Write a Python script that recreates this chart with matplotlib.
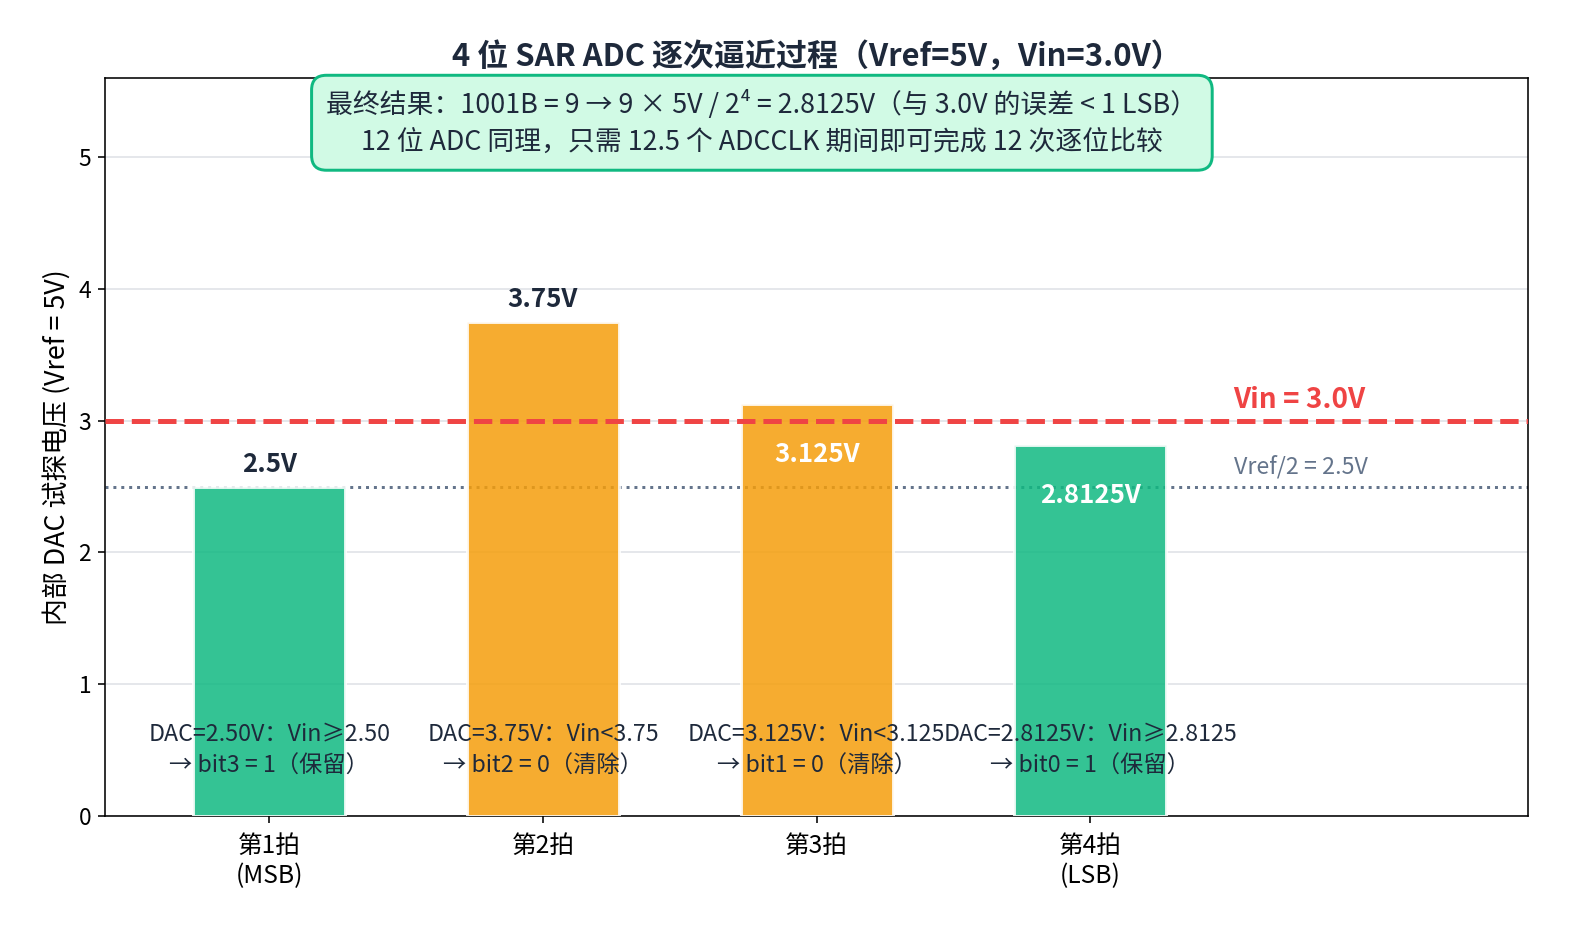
import numpy as np
import matplotlib
matplotlib.use("Agg")
import matplotlib.pyplot as plt

plt.rcParams['font.family'] = ['Noto Sans CJK SC', 'DejaVu Sans']
plt.rcParams['axes.unicode_minus'] = False

# data
steps = ['第1拍\n(MSB)', '第2拍', '第3拍', '第4拍\n(LSB)']
dac_values = [2.5, 3.75, 3.125, 2.8125]
bit_kept = [True, False, False, True]
value_labels = ['2.5V', '3.75V', '3.125V', '2.8125V']
label_inside = [False, False, True, True]
notes = [
    'DAC=2.50V：Vin≥2.50\n→ bit3 = 1（保留）',
    'DAC=3.75V：Vin<3.75\n→ bit2 = 0（清除）',
    'DAC=3.125V：Vin<3.125\n→ bit1 = 0（清除）',
    'DAC=2.8125V：Vin≥2.8125\n→ bit0 = 1（保留）',
]
vin = 3.0
vref_half = 2.5

GREEN = '#10B981'
ORANGE = '#F59E0B'
RED = '#EF4444'
SLATE = '#64748B'
DARK = '#1E293B'

fig = plt.figure(figsize=(1570 / 143, 929 / 143), dpi=143)
ax = fig.add_axes([0.0669, 0.1216, 0.9065, 0.7945])

x = np.arange(len(steps))
colors = [GREEN if k else ORANGE for k in bit_kept]
ax.bar(x, dac_values, width=0.555, color=colors, alpha=0.85,
       edgecolor='white', linewidth=1.5, zorder=3)

ax.axhline(vref_half, color=SLATE, linestyle=':', linewidth=1.5, zorder=2)
ax.axhline(vin, color=RED, linestyle='--', linewidth=2.5, zorder=4)

ax.text(3.765, vin + 0.16, f'Vin = {vin}V', color=RED, fontsize=14,
        fontweight='bold', ha='center', va='center')
ax.text(3.77, vref_half + 0.15, f'Vref/2 = {vref_half}V', color=SLATE,
        fontsize=11.7, ha='center', va='center')

for i, (v, lab) in enumerate(zip(dac_values, value_labels)):
    if label_inside[i]:
        ax.text(i, v - 0.38, lab, ha='center', va='center', fontsize=13,
                fontweight='bold', color='white', zorder=5)
    else:
        ax.text(i, v + 0.17, lab, ha='center', va='center', fontsize=13,
                fontweight='bold', color=DARK, zorder=5)

for i, note in enumerate(notes):
    ax.text(i, 0.5, note, ha='center', va='center', fontsize=11.7,
            color=DARK, multialignment='center', zorder=5, linespacing=1.52)

box_text = ('最终结果：1001B = 9 → 9 × 5V / 2⁴ = 2.8125V（与 3.0V 的误差 < 1 LSB）\n'
            '12 位 ADC 同理，只需 12.5 个 ADCCLK 期间即可完成 12 次逐位比较')
ax.text(1.8, 5.26, box_text, ha='center', va='center', fontsize=13.5,
        color=DARK, multialignment='center', zorder=6, linespacing=1.45,
        bbox=dict(boxstyle='round,pad=0.55', facecolor='#D1FAE5',
                  edgecolor=GREEN, linewidth=1.5))

ax.set_xticks(x)
ax.set_xticklabels(steps, fontsize=12.4)
ax.tick_params(axis='x', pad=5)
ax.set_xlim(-0.6, 4.6)
ax.set_ylim(0, 5.6)
ax.tick_params(axis='y', labelsize=11.5)
ax.set_ylabel('内部 DAC 试探电压 (Vref = 5V)', fontsize=13.5)
ax.yaxis.grid(True, color='#E5E7EB', linewidth=1, zorder=0)
ax.set_axisbelow(True)
ax.set_title('4 位 SAR ADC 逐次逼近过程（Vref=5V，Vin=3.0V）', fontsize=15.6,
             fontweight='bold', color=DARK, pad=6)

fig.savefig('out.png', dpi=143)
